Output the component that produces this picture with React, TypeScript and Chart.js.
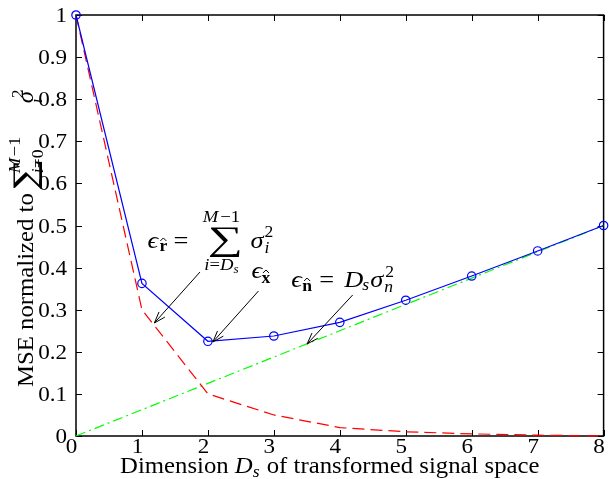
import React, { useEffect, useRef } from "react";
import { Chart, registerables } from "chart.js";

Chart.register(...registerables);

// ---------- data ----------
const dims = [0, 1, 2, 3, 4, 5, 6, 7, 8];
const mseTotal = [1, 0.3625, 0.225, 0.2375, 0.27, 0.3225, 0.38, 0.4395, 0.5];
const mseTruncation = [1, 0.3, 0.1, 0.05, 0.02, 0.01, 0.005, 0.002, 0];
const mseNoise = [0, 0.0625, 0.125, 0.1875, 0.25, 0.3125, 0.375, 0.4375, 0.5];

const xTicks = [0, 1, 2, 3, 4, 5, 6, 7, 8];
const xTickLabels = ["0", "1", "2", "3", "4", "5", "6", "7", "8"];
const yTicks = [0, 0.1, 0.2, 0.3, 0.4, 0.5, 0.6, 0.7, 0.8, 0.9, 1];
const yTickLabels = ["0", "0.1", "0.2", "0.3", "0.4", "0.5", "0.6", "0.7", "0.8", "0.9", "1"];

// annotation anchors (data coordinates)
const annR = { x: 1.083, y: 0.4466 };
const annX = { x: 2.662, y: 0.3753 };
const annN = { x: 3.263, y: 0.3539 };
const arrowR = { x1: 1.88, y1: 0.3895, x2: 1.188, y2: 0.2684 };
const arrowX = { x1: 2.767, y1: 0.3444, x2: 2.075, y2: 0.2233 };
const arrowN = { x1: 4.195, y1: 0.3349, x2: 3.504, y2: 0.2185 };

// ---------- text helpers ----------
const SERIF = '"Liberation Serif", "DejaVu Serif", serif';
const SX = 1.1;
const rm = (s: number) => `${s}px ${SERIF}`;
const it = (s: number) => `italic ${s}px ${SERIF}`;
const bf = (s: number) => `bold ${s}px ${SERIF}`;

function measure(ctx: CanvasRenderingContext2D, s: string, font: string, sx = SX) {
  ctx.save();
  ctx.font = font;
  const w = ctx.measureText(s).width * sx;
  ctx.restore();
  return w;
}

function txt(ctx: CanvasRenderingContext2D, s: string, x: number, y: number, font: string, sx = SX) {
  ctx.save();
  ctx.font = font;
  ctx.textAlign = "left";
  ctx.textBaseline = "alphabetic";
  ctx.fillStyle = "#000";
  const w = ctx.measureText(s).width * sx;
  ctx.translate(x, y);
  ctx.scale(sx, 1);
  ctx.fillText(s, 0, 0);
  ctx.restore();
  return w;
}

type Run = { t: string; f: string; dy?: number; gap?: number };
function runs(ctx: CanvasRenderingContext2D, items: Run[], x: number, y: number, draw = true) {
  let cx = x;
  for (const r of items) {
    cx += r.gap || 0;
    if (draw) cx += txt(ctx, r.t, cx, y + (r.dy || 0), r.f);
    else cx += measure(ctx, r.t, r.f);
  }
  return cx - x;
}

function glyphFit(ctx: CanvasRenderingContext2D, s: string, left: number, top: number, w: number, h: number) {
  ctx.save();
  ctx.font = `100px ${SERIF}`;
  ctx.textAlign = "left";
  ctx.textBaseline = "alphabetic";
  ctx.fillStyle = "#000";
  const m = ctx.measureText(s);
  const gw = m.actualBoundingBoxLeft + m.actualBoundingBoxRight;
  const gh = m.actualBoundingBoxAscent + m.actualBoundingBoxDescent;
  ctx.translate(left, top);
  ctx.scale(w / gw, h / gh);
  ctx.fillText(s, m.actualBoundingBoxLeft, m.actualBoundingBoxAscent);
  ctx.restore();
}

function hatChar(ctx: CanvasRenderingContext2D, s: string, x: number, y: number, size: number) {
  const w = txt(ctx, s, x, y, bf(size));
  const cx = x + w / 2;
  const top = y - size * 0.47 - 2.5;
  ctx.save();
  ctx.strokeStyle = "#000";
  ctx.lineWidth = 1;
  ctx.beginPath();
  ctx.moveTo(cx - 3, top);
  ctx.lineTo(cx, top - 3);
  ctx.lineTo(cx + 3, top);
  ctx.stroke();
  ctx.restore();
  return w;
}

function arrow(ctx: CanvasRenderingContext2D, x1: number, y1: number, x2: number, y2: number) {
  ctx.save();
  ctx.strokeStyle = "#000";
  ctx.lineWidth = 1;
  ctx.beginPath();
  ctx.moveTo(x1, y1);
  ctx.lineTo(x2, y2);
  ctx.stroke();
  const a = Math.atan2(y2 - y1, x2 - x1);
  const L = 12;
  const sp = 0.33;
  ctx.beginPath();
  ctx.moveTo(x2 - L * Math.cos(a - sp), y2 - L * Math.sin(a - sp));
  ctx.lineTo(x2, y2);
  ctx.lineTo(x2 - L * Math.cos(a + sp), y2 - L * Math.sin(a + sp));
  ctx.stroke();
  ctx.restore();
}

// ---------- plugin ----------
const decor = {
  id: "decor",
  beforeDatasetsDraw(chart: any) {
    const ctx: CanvasRenderingContext2D = chart.ctx;
    const { left, right, top, bottom } = chart.chartArea;
    const xs = chart.scales.x;
    const ys = chart.scales.y;
    ctx.save();
    ctx.strokeStyle = "#000";
    ctx.lineWidth = 1.5;
    ctx.strokeRect(left, top, right - left, bottom - top);
    ctx.lineWidth = 1;
    const T = 6;
    ctx.beginPath();
    for (const v of xTicks) {
      const p = Math.round(xs.getPixelForValue(v)) + 0.5;
      ctx.moveTo(p, bottom);
      ctx.lineTo(p, bottom - T);
      ctx.moveTo(p, top);
      ctx.lineTo(p, top + T);
    }
    for (const v of yTicks) {
      const p = Math.round(ys.getPixelForValue(v)) + 0.5;
      ctx.moveTo(left, p);
      ctx.lineTo(left + T, p);
      ctx.moveTo(right, p);
      ctx.lineTo(right - T, p);
    }
    ctx.stroke();
    ctx.restore();
  },
  afterDraw(chart: any) {
    const ctx: CanvasRenderingContext2D = chart.ctx;
    const { left, right, bottom } = chart.chartArea;
    const xs = chart.scales.x;
    const ys = chart.scales.y;
    const px = (v: number) => xs.getPixelForValue(v);
    const py = (v: number) => ys.getPixelForValue(v);

    // tick labels
    xTicks.forEach((v, i) => {
      const w = measure(ctx, xTickLabels[i], rm(21));
      txt(ctx, xTickLabels[i], px(v) - 4.5 - w / 2, bottom + 17, rm(21));
    });
    yTicks.forEach((v, i) => {
      const w = measure(ctx, yTickLabels[i], rm(21));
      txt(ctx, yTickLabels[i], left - 9 - w, py(v) + 7, rm(21));
    });

    // x title
    const xItems: Run[] = [
      { t: "Dimension ", f: rm(22.5) },
      { t: "D", f: it(22.5) },
      { t: "s", f: it(16), dy: 4 },
      { t: " of transformed signal space", f: rm(22.5), gap: 1 },
    ];
    const xw = runs(ctx, xItems, 0, 0, false);
    runs(ctx, xItems, (left + right) / 2 - 10 - xw / 2, bottom + 37, true);

    // y title (rotated)
    ctx.save();
    ctx.translate(33, 387);
    ctx.rotate(-Math.PI / 2);
    const w0 = txt(ctx, "MSE normalized to", 0, 0, rm(22.5));
    const sL = w0 + 4;
    glyphFit(ctx, "\u2211", sL, -20, 28, 29);
    runs(ctx, [{ t: "M", f: it(17) }, { t: "\u22121", f: rm(17), gap: 1 }], sL + 16, -13);
    runs(ctx, [{ t: "i", f: it(16) }, { t: "=0", f: rm(16) }], sL + 16, 10);
    txt(ctx, "\u03c3", sL + 86, 0, it(22.5));
    txt(ctx, "2", sL + 91, -10, rm(16));
    txt(ctx, "i", sL + 86, 9, it(16));
    ctx.restore();

    // annotation r
    {
      const ax = px(annR.x);
      const ay = py(annR.y);
      txt(ctx, "\u03f5", ax, ay, it(24));
      hatChar(ctx, "r", ax + 12, ay + 3, 16);
      txt(ctx, "=", ax + 26, ay, rm(24));
      glyphFit(ctx, "\u2211", ax + 62, ay - 20, 30, 30);
      const sup: Run[] = [{ t: "M", f: it(17) }, { t: "\u22121", f: rm(17), gap: 2 }];
      const sw = runs(ctx, sup, 0, 0, false);
      runs(ctx, sup, ax + 74 - sw / 2, ay - 26);
      const sub: Run[] = [
        { t: "i", f: it(17) },
        { t: "=", f: rm(17) },
        { t: "D", f: it(17) },
        { t: "s", f: it(12), dy: 3 },
      ];
      const bw = runs(ctx, sub, 0, 0, false);
      runs(ctx, sub, ax + 74 - bw / 2, ay + 22);
      txt(ctx, "\u03c3", ax + 103, ay, it(24));
      txt(ctx, "2", ax + 117, ay - 11, rm(16));
      txt(ctx, "i", ax + 117, ay + 5, it(16));
    }
    // annotation x
    {
      const ax = px(annX.x);
      const ay = py(annX.y);
      txt(ctx, "\u03f5", ax, ay, it(24));
      hatChar(ctx, "x", ax + 10, ay + 5, 16);
    }
    // annotation n
    {
      const ax = px(annN.x);
      const ay = py(annN.y);
      txt(ctx, "\u03f5", ax, ay, it(24));
      hatChar(ctx, "n", ax + 11, ay + 4, 16);
      txt(ctx, "=", ax + 28, ay, rm(24));
      txt(ctx, "D", ax + 53, ay, it(24));
      txt(ctx, "s", ax + 71, ay + 3, it(16));
      txt(ctx, "\u03c3", ax + 79, ay, it(24));
      txt(ctx, "2", ax + 94, ay - 10, rm(16));
      txt(ctx, "n", ax + 93, ay + 5, it(16));
    }

    // arrows
    for (const a of [arrowR, arrowX, arrowN]) {
      arrow(ctx, px(a.x1), py(a.y1), px(a.x2), py(a.y2));
    }
  },
};

export default function App() {
  const ref = useRef<HTMLCanvasElement>(null);
  useEffect(() => {
    document.body.style.margin = "0";
    const canvas = ref.current!;
    const toPts = (ys: number[]) => dims.map((x, i) => ({ x, y: ys[i] }));
    const chart = new Chart(canvas, {
      type: "line",
      data: {
        datasets: [
          {
            data: toPts(mseTotal),
            borderColor: "#0000ff",
            borderWidth: 1.2,
            pointRadius: 4.2,
            pointBorderWidth: 1.2,
            pointBorderColor: "#0000ff",
            pointBackgroundColor: "rgba(0,0,0,0)",
            pointStyle: "circle",
            tension: 0,
            clip: false as any,
          },
          {
            data: toPts(mseTruncation),
            borderColor: "#ff0000",
            borderWidth: 1.2,
            borderDash: [12, 6],
            pointRadius: 0,
            tension: 0,
            clip: false as any,
          },
          {
            data: toPts(mseNoise),
            borderColor: "#00ff00",
            borderWidth: 1.2,
            borderDash: [10, 4, 2, 4],
            pointRadius: 0,
            tension: 0,
            clip: false as any,
          },
        ],
      },
      options: {
        responsive: false,
        animation: false,
        devicePixelRatio: 1,
        events: [],
        layout: { padding: { top: 15, right: 1, left: 0, bottom: 0 } },
        plugins: { legend: { display: false }, tooltip: { enabled: false } },
        scales: {
          x: {
            type: "linear",
            min: 0,
            max: 8,
            ticks: { display: false },
            grid: { display: false, drawTicks: false },
            border: { display: false },
            afterFit: (s: any) => {
              s.height = 43;
            },
          },
          y: {
            type: "linear",
            min: 0,
            max: 1,
            ticks: { display: false },
            grid: { display: false, drawTicks: false },
            border: { display: false },
            afterFit: (s: any) => {
              s.width = 76;
            },
          },
        },
      },
      plugins: [decor],
    });
    return () => chart.destroy();
  }, []);
  return (
    <canvas
      ref={ref}
      width={609}
      height={479}
      style={{ display: "block", width: 609, height: 479, position: "absolute", left: 0, top: 0 }}
    />
  );
}
